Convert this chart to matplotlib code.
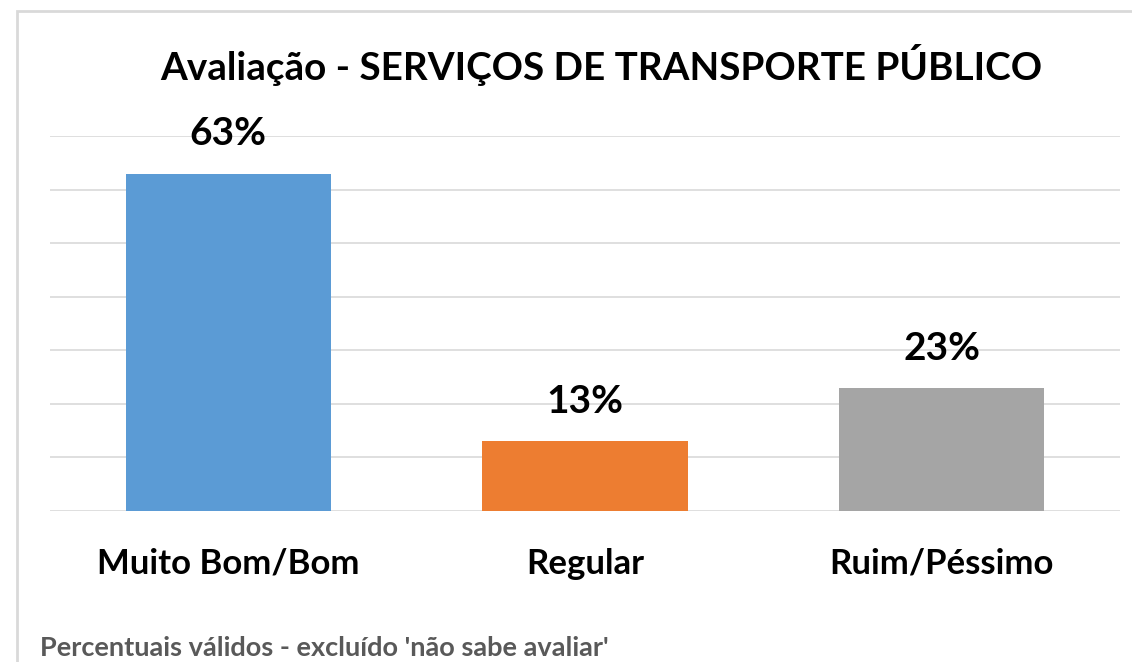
# Avaliação - serviços de transporte público (gráfico de barras estilo Excel)
import matplotlib.pyplot as plt
from matplotlib.patches import Rectangle

categorias = ['Muito Bom/Bom', 'Regular', 'Ruim/Péssimo']
valores = [63, 13, 23]
cores = ['#5B9BD5', '#ED7D31', '#A5A5A5']
titulo = 'Avaliação - SERVIÇOS DE TRANSPORTE PÚBLICO'
nota = "Percentuais válidos - excluído 'não sabe avaliar'"

plt.rcParams['font.family'] = ['Lato', 'DejaVu Sans']

W, H = 1132, 662
fig = plt.figure(figsize=(W / 100, H / 100), dpi=100)
fig.patch.set_facecolor('white')

# moldura cinza do gráfico (cortada à direita e embaixo)
fig.patches.append(Rectangle((17 / W, -0.1), 1.2, 1 - 11 / H + 0.1,
                             transform=fig.transFigure, fill=False,
                             edgecolor='#D9D9D9', linewidth=2))

ax = fig.add_axes([50 / W, 1 - 511 / H, 1070 / W, (511 - 136) / H])
x = range(len(categorias))
bars = ax.bar(x, valores, width=0.575, color=cores, zorder=2)
ax.set_xlim(-0.5, 2.5)
ax.set_ylim(0, 70)
ax.set_yticks(range(0, 71, 10))
ax.yaxis.grid(True, color='#D9D9D9', linewidth=1.2, zorder=0)
ax.tick_params(axis='y', left=False, labelleft=False)
ax.tick_params(axis='x', bottom=False, pad=23)
ax.set_xticks(list(x))
ax.set_xticklabels(categorias, fontsize=25, fontweight='bold', color='black')
for s in ax.spines.values():
    s.set_visible(False)

# rótulos de dados
for b, v in zip(bars, valores):
    ax.annotate(f'{v}%', (b.get_x() + b.get_width() / 2, v),
                xytext=(0, 16), textcoords='offset points',
                ha='center', va='bottom', fontsize=28, fontweight='bold')

fig.text(601 / W, 1 - 65 / H, titulo, ha='center', va='center',
         fontsize=27.8, fontweight='bold')
fig.text(40 / W, 1 - 648 / H, nota, ha='left', va='center',
         fontsize=19.5, fontweight='bold', color='#595959')

fig.savefig('out.png', dpi=100)
